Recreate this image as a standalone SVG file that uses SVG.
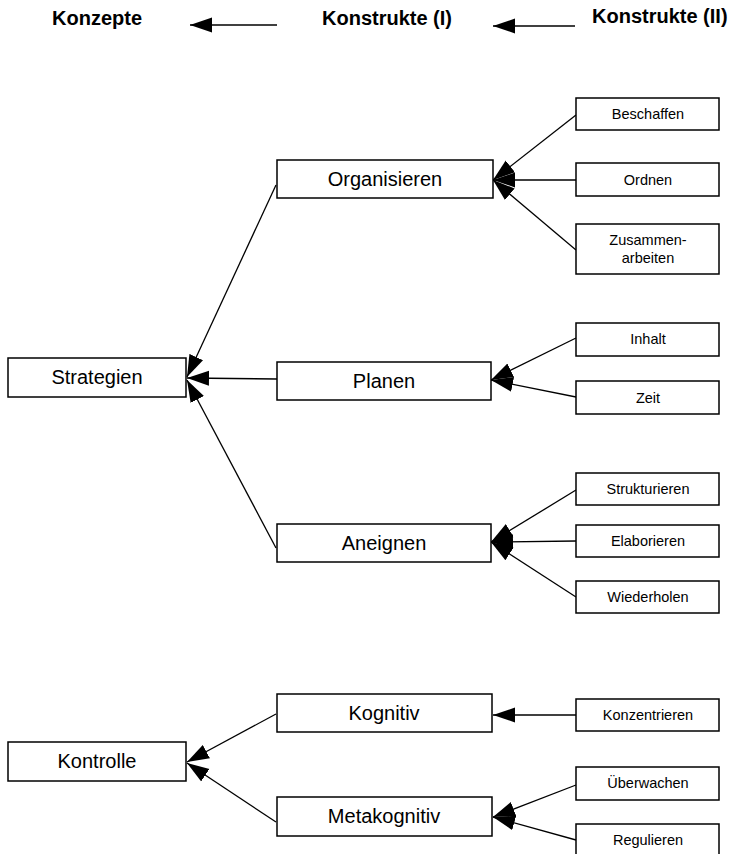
<svg xmlns="http://www.w3.org/2000/svg" width="731" height="854" viewBox="0 0 731 854">
<style>
  .box { fill: #fff; stroke: #000; stroke-width: 1.5; }
  .big { font-family: "Liberation Sans", Arial, sans-serif; font-size: 20px; fill: #000; text-anchor: middle; }
  .small { font-family: "Liberation Sans", Arial, sans-serif; font-size: 14.5px; fill: #000; text-anchor: middle; }
  .head { font-family: "Liberation Sans", Arial, sans-serif; font-size: 20px; font-weight: bold; fill: #000; }
  .edge { stroke: #000; stroke-width: 1.3; fill: none; marker-end: url(#arrow); }
</style>
<defs>
  <marker id="arrow" markerUnits="userSpaceOnUse" markerWidth="23" markerHeight="16" refX="22" refY="8" orient="auto">
    <path d="M0,0.5 L22,8 L0,15.5 Z" fill="#000"/>
  </marker>
</defs>
<rect width="731" height="854" fill="#fff"/>

<!-- column headings -->
<g id="headings">
  <text class="head" x="52" y="25">Konzepte</text>
  <text class="head" x="322" y="25">Konstrukte (I)</text>
  <text class="head" x="592" y="23">Konstrukte (II)</text>
</g>

<g id="connectors">
  <line class="edge" x1="277" y1="25" x2="190" y2="25"/>
  <line class="edge" x1="575" y1="26" x2="493" y2="26"/>
  <!-- to Strategien -->
  <line class="edge" x1="276" y1="185" x2="187" y2="377"/>
  <line class="edge" x1="277" y1="379" x2="187" y2="378"/>
  <line class="edge" x1="276" y1="548" x2="187" y2="380"/>
  <!-- to Organisieren -->
  <line class="edge" x1="576" y1="115" x2="493" y2="180"/>
  <line class="edge" x1="576" y1="180" x2="493" y2="180"/>
  <line class="edge" x1="576" y1="250" x2="493" y2="180"/>
  <!-- to Planen -->
  <line class="edge" x1="576" y1="338" x2="491" y2="380"/>
  <line class="edge" x1="576" y1="397" x2="491" y2="380"/>
  <!-- to Aneignen -->
  <line class="edge" x1="576" y1="490" x2="491" y2="542"/>
  <line class="edge" x1="576" y1="541" x2="491" y2="542"/>
  <line class="edge" x1="576" y1="597" x2="491" y2="542"/>
  <!-- to Kontrolle -->
  <line class="edge" x1="276" y1="714" x2="187" y2="762"/>
  <line class="edge" x1="276" y1="822" x2="187" y2="763"/>
  <!-- to Kognitiv -->
  <line class="edge" x1="576" y1="715" x2="493" y2="715"/>
  <!-- to Metakognitiv -->
  <line class="edge" x1="576" y1="785" x2="493" y2="817"/>
  <line class="edge" x1="576" y1="840" x2="493" y2="817"/>
</g>

<g id="strategien"><rect class="box" x="8" y="358" width="178" height="39"/><text class="big" x="97" y="384">Strategien</text></g>
<g id="organisieren"><rect class="box" x="277" y="160" width="216" height="38"/><text class="big" x="385" y="186">Organisieren</text></g>
<g id="planen"><rect class="box" x="277" y="362" width="214" height="38"/><text class="big" x="384" y="388">Planen</text></g>
<g id="aneignen"><rect class="box" x="277" y="524" width="214" height="38"/><text class="big" x="384" y="550">Aneignen</text></g>

<g id="beschaffen"><rect class="box" x="576" y="98" width="143" height="32"/><text class="small" x="648" y="119">Beschaffen</text></g>
<g id="ordnen"><rect class="box" x="576" y="163" width="143" height="33"/><text class="small" x="648" y="185">Ordnen</text></g>
<g id="zusammenarbeiten"><rect class="box" x="576" y="224" width="143" height="50"/><text class="small" x="648" y="245">Zusammen-</text><text class="small" x="648" y="263">arbeiten</text></g>
<g id="inhalt"><rect class="box" x="576" y="323" width="143" height="33"/><text class="small" x="648" y="344">Inhalt</text></g>
<g id="zeit"><rect class="box" x="576" y="381" width="143" height="33"/><text class="small" x="648" y="403">Zeit</text></g>
<g id="strukturieren"><rect class="box" x="576" y="473" width="143" height="32"/><text class="small" x="648" y="494">Strukturieren</text></g>
<g id="elaborieren"><rect class="box" x="576" y="525" width="143" height="32"/><text class="small" x="648" y="546">Elaborieren</text></g>
<g id="wiederholen"><rect class="box" x="576" y="581" width="143" height="32"/><text class="small" x="648" y="602">Wiederholen</text></g>

<g id="kontrolle"><rect class="box" x="8" y="742" width="178" height="39"/><text class="big" x="97" y="768">Kontrolle</text></g>
<g id="kognitiv"><rect class="box" x="277" y="694" width="215" height="38"/><text class="big" x="384" y="720">Kognitiv</text></g>
<g id="metakognitiv"><rect class="box" x="277" y="797" width="215" height="39"/><text class="big" x="384" y="823">Metakognitiv</text></g>

<g id="konzentrieren"><rect class="box" x="576" y="699" width="143" height="32"/><text class="small" x="648" y="720">Konzentrieren</text></g>
<g id="ueberwachen"><rect class="box" x="576" y="767" width="143" height="33"/><text class="small" x="648" y="788">Überwachen</text></g>
<g id="regulieren"><rect class="box" x="576" y="824" width="143" height="32"/><text class="small" x="648" y="845">Regulieren</text></g>
</svg>
